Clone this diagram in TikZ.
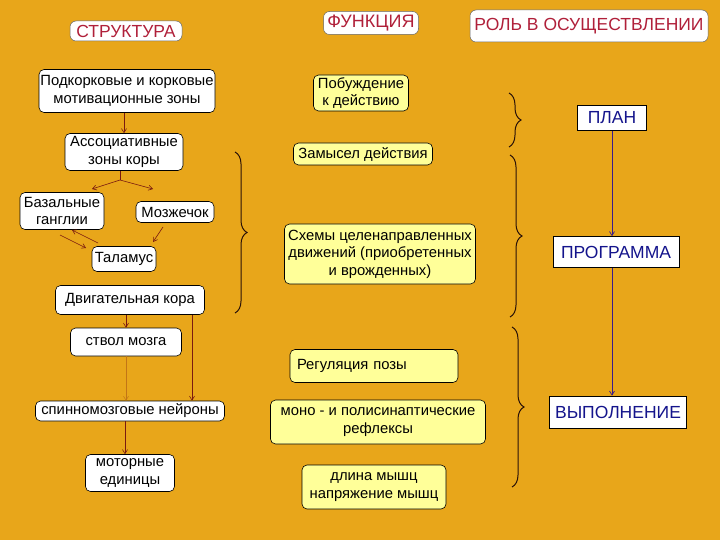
\documentclass[tikz,border=0pt]{standalone}
\usepackage{fontspec}
\setmainfont{Liberation Sans}
\usetikzlibrary{arrows.meta,decorations.pathreplacing}
\definecolor{bg}{HTML}{E8A61A}
\definecolor{ttl}{HTML}{B0203A}
\definecolor{yel}{HTML}{FFFF99}
\definecolor{navy}{HTML}{14148C}
\definecolor{arrc}{HTML}{7A1A10}
\definecolor{blu}{HTML}{3A1A8C}
\definecolor{brc}{HTML}{2A1208}
\tikzset{
  sbox/.style={draw=black, line width=0.6pt, fill=white, rounded corners=5pt, align=center,
    font=\fontsize{14.8}{17.5}\selectfont, inner sep=0pt},
  fbox/.style={draw=black, line width=0.6pt, fill=yel, rounded corners=5pt, align=center,
    font=\fontsize{14.8}{17.5}\selectfont, inner sep=0pt},
  rbox/.style={draw=black, line width=0.6pt, fill=white, text=navy, align=center,
    font=\fontsize{17.5}{20}\selectfont, inner sep=0pt},
  ttlbox/.style={draw=black!60, line width=0.5pt, fill=white, rounded corners=6pt, text=ttl,
    inner sep=0pt},
  arr/.style={draw=arrc, line width=0.6pt, -{Straight Barb[length=4pt,width=5pt]}},
  barr/.style={draw=blu, line width=0.7pt, -{Straight Barb[length=4pt,width=5pt]}},
  brc/.style={draw=brc, line width=1pt, decorate, decoration={brace, amplitude=12pt}},
}
\begin{document}
\begin{tikzpicture}[x=1pt,y=-1pt]
\fill[bg] (0,0) rectangle (720,540);
\useasboundingbox (0,0) rectangle (720,540);
% titles
\node[ttlbox, minimum width=112, minimum height=20, font=\fontsize{17.5}{20}\selectfont] (t1) at (126,31) {СТРУКТУРА};
\node[ttlbox, minimum width=95, minimum height=23, font=\fontsize{18}{20}\selectfont] (t2) at (371,23) {ФУНКЦИЯ};
\node[ttlbox, minimum width=238, minimum height=32, font=\fontsize{17.5}{20}\selectfont] (t3) at (589,26) {РОЛЬ В ОСУЩЕСТВЛЕНИИ};
% structure column
\node[sbox, minimum width=176, minimum height=43] (p) at (127,91) {Подкорковые и корковые\\мотивационные зоны};
\node[sbox, minimum width=118, minimum height=37] (a) at (124,152) {Ассоциативные\\зоны коры};
\node[sbox, minimum width=84, minimum height=37] (bg) at (62,211) {Базальные\\ганглии};
\node[sbox, minimum width=78, minimum height=21] (mz) at (175,212) {Мозжечок};
\node[sbox, minimum width=64, minimum height=25] (tl) at (124,259) {Таламус};
\node[sbox, minimum width=149, minimum height=29] (dk) at (130,300) {Двигательная кора};
\node[sbox, minimum width=111, minimum height=28] (sm) at (126,342) {ствол мозга};
\node[sbox, minimum width=189, minimum height=20] (sn) at (130,411) {спинномозговые нейроны};
\node[sbox, minimum width=89, minimum height=37] (me) at (130,473) {моторные\\единицы};
% structure arrows
\draw[arr] (a.north |- p.south) -- (a.north);
\coordinate (fk) at (120,180);
\coordinate (bgt) at (92,189);
\coordinate (mzt) at (153,189);
\draw[arrc, line width=0.6pt] (fk |- a.south) -- (fk);
\draw[arr] (fk) -- (bgt);
\draw[arr] (fk) -- (mzt);
\coordinate (b1s) at (60,235);
\coordinate (b1e) at (86,248);
\coordinate (b2s) at (98,243);
\coordinate (b2e) at (72,230);
\draw[arr] (b1s) -- (b1e);
\draw[arr] (b2s) -- (b2e);
\coordinate (m1s) at (163,227);
\coordinate (m1e) at (153,242);
\draw[arr] (m1s) -- (m1e);
\draw[arr] (126,315.5 |- dk.south) -- (126,328 |- sm.north);
\draw[arrc!35!bg, line width=0.5pt, -{Straight Barb[length=4pt,width=5pt]}] (126,356 |- sm.south) -- (126,401 |- sn.north);
\draw[arr] (192,315 |- dk.south) -- (192,401 |- sn.north);
\draw[arr] (125,421 |- sn.south) -- (125,455 |- me.north);
% function column
\node[fbox, minimum width=95, minimum height=36] (f1) at (361,93) {Побуждение\\к действию};
\node[fbox, minimum width=139, minimum height=22] (f2) at (363,154) {Замысел действия};
\node[fbox, minimum width=191, minimum height=60] (f3) at (380,254) {Схемы целенаправленных\\движений (приобретенных\\и врожденных)};
\node[fbox, minimum width=168, minimum height=33, text width=154, align=left] (f4) at (374,366) {Регуляция позы};
\node[fbox, minimum width=215, minimum height=44] (f5) at (378,422) {моно - и полисинаптические\\рефлексы};
\node[fbox, minimum width=144, minimum height=44] (f6) at (374,487) {длина мышц\\напряжение мышц};
% braces
\coordinate (L1) at (235,152);
\coordinate (L2) at (235,313);
\draw[brc] (L1) -- (L2);
\coordinate (R1a) at (509,93);
\coordinate (R1b) at (509,147);
\draw[brc] (R1a) -- (R1b);
\coordinate (R2a) at (510,155);
\coordinate (R2b) at (510,317);
\draw[brc] (R2a) -- (R2b);
\coordinate (R3a) at (512,327);
\coordinate (R3b) at (512,487);
\draw[brc] (R3a) -- (R3b);
% role column
\node[rbox, minimum width=69, minimum height=25] (r1) at (612,118) {ПЛАН};
\node[rbox, minimum width=126, minimum height=31] (r2) at (616,252) {ПРОГРАММА};
\node[rbox, minimum width=137, minimum height=32] (r3) at (618,412) {ВЫПОЛНЕНИЕ};
\draw[barr] (r1.south) -- (r1.south |- r2.north);
\draw[barr] (r1.south |- r2.south) -- (r1.south |- r3.north);
\end{tikzpicture}
\end{document}
